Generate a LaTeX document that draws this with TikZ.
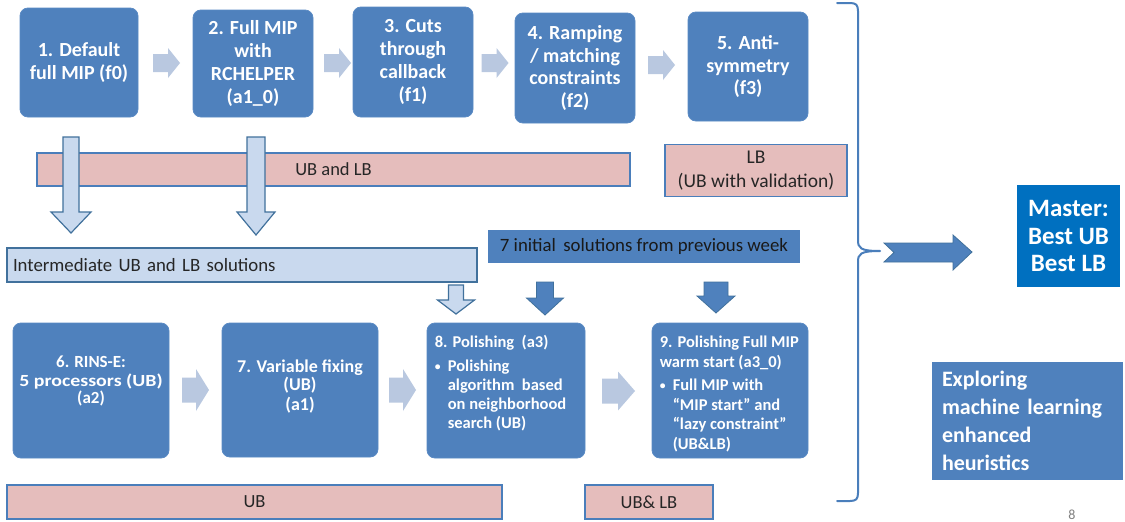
\documentclass[tikz,border=0pt]{standalone}
\usepackage{fontspec}
\setmainfont{Carlito}
\usetikzlibrary{calc}
\setlength{\parindent}{0pt}
\definecolor{boxblue}{HTML}{4F81BD}
\definecolor{boxedge}{HTML}{5A8AC4}
\definecolor{lightarrow}{HTML}{B9C8E0}
\definecolor{pinkfill}{HTML}{E5BDBC}
\definecolor{bandedge}{HTML}{4A7EBB}
\definecolor{hatchfill}{HTML}{C9D9EE}
\definecolor{darkedge}{HTML}{41719C}
\definecolor{masterblue}{HTML}{0070C0}
\definecolor{darktext}{HTML}{262626}
\newcommand\blockR[6]{\fill[lightarr] ({#1-#3/2},{#2-#5}) -- ({#1+#3/2-#4},{#2-#5}) -- ({#1+#3/2-#4},{#2-#6}) -- ({#1+#3/2},#2) -- ({#1+#3/2-#4},{#2+#6}) -- ({#1+#3/2-#4},{#2+#5}) -- ({#1-#3/2},{#2+#5}) -- cycle;}
% cx, top, tip, headlen, shafthalf, headhalf, style
\newcommand\blockD[7]{\filldraw[#7] ({#1-#5},#2) -- ({#1+#5},#2) -- ({#1+#5},{#3-#4}) -- ({#1+#6},{#3-#4}) -- (#1,#3) -- ({#1-#6},{#3-#4}) -- ({#1-#5},{#3-#4}) -- cycle;}
\newcommand\smallbullet{\makebox[13pt][l]{\raisebox{1pt}{\scalebox{0.7}{\textbullet}}}}
\begin{document}
\begin{tikzpicture}[x=1pt,y=-1pt,
  box/.style={fill=boxblue, draw=boxedge, line width=0.8pt, rounded corners=8pt, text=white,
    font=\bfseries\fontsize{20}{22.8}\selectfont, align=center, inner sep=2pt},
  lowbox/.style={fill=boxblue, draw=boxedge, line width=0.8pt, rounded corners=8pt},
  lowtext/.style={text=white, inner sep=0pt, font=\bfseries\fontsize{16.5}{19}\selectfont},
  band/.style={fill=pinkfill, draw=bandedge, line width=1.5pt, text=darktext,
    font=\fontsize{18.5}{24}\selectfont, align=center, inner sep=0pt},
  hatch/.style={fill=hatchfill, draw=darkedge, line width=1.2pt},
  solidarr/.style={fill=boxblue, draw=darkedge, line width=0.8pt},
  lightarr/.style={fill=lightarrow},
  bluebar/.style={fill=boxblue, draw=none, text=black!90, font=\fontsize{18.8}{21}\selectfont, inner sep=0pt}
]
\useasboundingbox (0,0) rectangle (1125,522);
\fill[white] (0,0) rectangle (1125,522);

% top row
\node[box, minimum width=118pt, minimum height=109pt] (b1) at (79,62.5) {1. Default\\full MIP (f0)};
\node[box, minimum width=120pt, minimum height=107pt] (b2) at (253,63.5) {2. Full MIP\\with\\RCHELPER\\(a1\_0)};
\node[box, minimum width=120pt, minimum height=110pt] (b3) at (413,62) {3. Cuts\\through\\callback\\(f1)};
\node[box, minimum width=120pt, minimum height=110pt] (b4) at (575,68) {4. Ramping\\/ matching\\constraints\\(f2)};
\node[box, minimum width=120pt, minimum height=109pt] (b5) at (748,66.5) {5. Anti-\\symmetry\\(f3)};

\blockR{166.5}{63}{27}{12}{9}{15}
\blockR{337.5}{63}{27}{12}{9}{15}
\blockR{495}{63}{27}{12}{9}{15}
\blockR{661.5}{65}{27}{12}{9}{15}

% bands
\node[band, minimum width=593pt, minimum height=33pt] (ubl) at (333.5,169.5) {UB and LB};
\node[band, minimum width=182pt, minimum height=52pt, font=\fontsize{19.5}{24}\selectfont] (lbv) at (756,170.5) {LB\\(UB with validation)};

% hatched arrows from top
\blockD{71}{137}{233}{21}{8}{20}{hatch}
\blockD{256}{137}{235}{23}{9}{19}{hatch}

% intermediate box
\node[hatch, minimum width=470pt, minimum height=34pt, text width=458pt, align=left, inner xsep=6pt, inner ysep=0pt,
  text=darktext, font=\fontsize{18.8}{21}\selectfont] (inter) at (242,265) {Intermediate UB and LB solutions};
\blockD{456}{285}{314}{14}{7.5}{18.5}{hatch}

% initial solutions bar
\node[bluebar, minimum width=312pt, minimum height=33pt] (init) at (644,246.5) {7 initial\, solutions from previous week};
\blockD{545}{282}{315}{17}{8.5}{18.5}{solidarr}
\blockD{716}{282}{313}{17}{12}{19}{solidarr}

% bottom row
\node[lowbox, minimum width=156pt, minimum height=135pt] (b6) at (91,390.5) {};
\node[lowtext, align=center, font=\bfseries\fontsize{17}{17.5}\selectfont] (b6t) at (91,381)
  {6. RINS-E:\\[1.5pt]\scalebox{1.17}[1]{5 processors (UB)}\\(a2)};
\node[lowbox, minimum width=156pt, minimum height=134pt] (b7) at (300,390) {};
\node[lowtext, align=center, font=\bfseries\fontsize{18}{17.5}\selectfont] (b7t) at (300,386.5)
  {7. Variable fixing\\(UB)\\[2.5pt](a1)};
\node[lowbox, minimum width=158pt, minimum height=135pt] (b8) at (506,390.5) {};
\node[lowtext, anchor=north west] (b8t) at ($(b8.north west)+(8,11)$)
  {\begin{tabular}{@{}l@{}}
   8. Polishing\ \ (a3)\\[5pt]
   \smallbullet Polishing\\
   \hspace*{13pt}algorithm\ \ based\\
   \hspace*{13pt}on neighborhood\\
   \hspace*{13pt}search (UB)
   \end{tabular}};
\node[lowbox, minimum width=156pt, minimum height=135pt] (b9) at (730,390.5) {};
\node[lowtext, anchor=north west, font=\bfseries\fontsize{16.5}{19.8}\selectfont] (b9t) at ($(b9.north west)+(8,11)$)
  {\begin{tabular}{@{}l@{}}
   9. Polishing Full MIP\\
   warm start (a3\_0)\\[3pt]
   \smallbullet Full MIP with\\
   \hspace*{13pt}“MIP start” and\\
   \hspace*{13pt}“lazy constraint”\\
   \hspace*{13pt}(UB\&LB)
   \end{tabular}};

\blockR{195.5}{390}{27}{13}{12.5}{21}
\blockR{402.5}{390}{27}{13}{12.5}{21}
\blockR{618.5}{391}{33}{17}{12.5}{19.5}

\node[band, minimum width=495pt, minimum height=34pt] (ub) at (254.5,502) {UB};
\node[band, minimum width=128pt, minimum height=34pt] (ublb) at (649,502) {UB\& LB};

% brace
\coordinate (brtop) at (837,3);
\coordinate (brtip) at (880,251);
\coordinate (brbot) at (837,501);
\draw[bandedge, line width=2pt, line cap=round]
  (brtop) -- (850,3) .. controls (856,3) and (858,5) .. (858,11)
  -- (858,240) .. controls (858,248) and (860,251) .. (brtip)
  (brtip) .. controls (860,251) and (858,254) .. (858,262)
  -- (858,493) .. controls (858,499) and (856,501) .. (850,501) -- (brbot);

% big arrow
\filldraw[solidarr] (884,243) -- (953,243) -- (953,235) -- (972,252) -- (953,270) -- (953,262) -- (884,262) -- (894,252.5) -- cycle;

% master
\node[fill=masterblue, text=white, font=\bfseries\fontsize{25}{27.5}\selectfont, align=center, inner sep=0pt,
  minimum width=103pt, minimum height=102pt] (master) at (1068.5,236) {Master:\\Best UB\\Best LB};
\node[fill=boxblue, text=white, font=\bfseries\fontsize{22}{28}\selectfont, align=left, inner xsep=10pt, inner ysep=0pt,
  minimum width=191pt, minimum height=118pt, text width=171pt] (explore) at (1027.5,421) {Exploring\\machine learning\\enhanced\\heuristics};

\node[text=gray, font=\fontsize{14}{16}\selectfont, inner sep=0pt] (pg) at (1072,515) {8};
\end{tikzpicture}
\end{document}
